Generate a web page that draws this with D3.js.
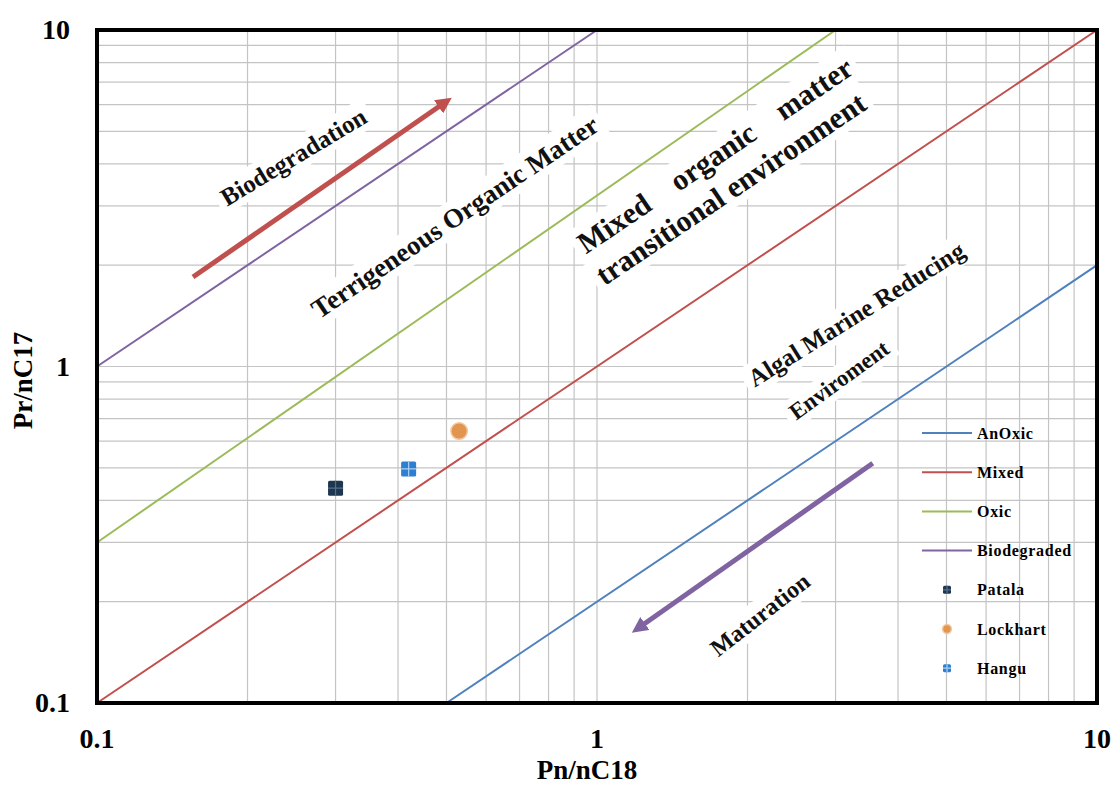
<!DOCTYPE html>
<html>
<head>
<meta charset="utf-8">
<script src="https://cdn.jsdelivr.net/npm/d3@7"></script>
<style>
  body { margin: 0; background: #fff; }
  svg { font-family: "Liberation Serif", "DejaVu Serif", serif; font-weight: bold; }
</style>
</head>
<body>
<svg id="chart" width="1115" height="785"></svg>
<script>
// ---- data ----
const xTicks = [0.1, 1, 10];
const yTicks = [0.1, 1, 10];
const lineNames = ["AnOxic", "Mixed", "Oxic", "Biodegraded"];
const lineColors = ["#4f81bd", "#c0504d", "#9bbb59", "#8064a2"];
const anoxicLine = [[0.5, 0.1], [10, 2]];
const mixedLine = [[0.1, 0.1], [10, 10]];
const oxicLine = [[0.1, 0.3], [3, 10]];
const biodegradedLine = [[0.1, 1], [1, 10]];

const sampleNames = ["Patala", "Lockhart", "Hangu"];
const sampleX = [0.3, 0.53, 0.42];
const sampleY = [0.435, 0.643, 0.496];

// annotations: text, x, y (data units), rotation
const noteText = ["Biodegradation", "Terrigeneous Organic Matter", "Mixed\u00a0\u00a0\u00a0\u00a0organic\u00a0\u00a0\u00a0\u00a0matter",
  "transitional environment", "Algal Marine Reducing", "Enviroment", "Maturation"];
const noteX = [0.247, 0.52, 1.72, 1.85, 3.3, 3.05, 2.12];
const noteY = [4.2, 2.78, 4.25, 3.38, 1.43, 0.91, 0.183];
const noteRot = [-31, -34, -34, -34, -32, -36, -38];
const noteSize = [25, 27, 30, 30, 25, 23, 24];

// arrows: [from, to]
const arrowRed = [[0.1556, 1.845], [0.497, 6.1]];
const arrowPurple = [[3.56, 0.516], [1.21, 0.167]];

// ---- layout ----
const svg = d3.select("#chart");
const margin = {left: 97, top: 30, right: 18, bottom: 82};
const W = 1115 - margin.left - margin.right;
const H = 785 - margin.top - margin.bottom;

const x = d3.scaleLog().domain([0.1, 10]).range([margin.left, margin.left + W]);
const y = d3.scaleLog().domain([0.1, 10]).range([margin.top + H, margin.top]);

// grid (major + minor log lines)
const gridVals = [];
[0.1, 1].forEach(d => { for (let k = 1; k <= 9; k++) gridVals.push(d * k); });
gridVals.push(10);

const grid = svg.append("g").attr("class", "grid");
grid.selectAll("line.v").data(gridVals).enter().append("line")
  .attr("x1", d => x(d)).attr("x2", d => x(d))
  .attr("y1", margin.top).attr("y2", margin.top + H)
  .style("stroke", "#c4c4c4").style("stroke-width", 1.2);
grid.selectAll("line.h").data(gridVals).enter().append("line")
  .attr("y1", d => y(d)).attr("y2", d => y(d))
  .attr("x1", margin.left).attr("x2", margin.left + W)
  .style("stroke", "#c4c4c4").style("stroke-width", 1.2);

// annotation texts with white background (below the lines)
const notes = svg.append("g").attr("class", "notes");
noteText.forEach((t, i) => {
  const g = notes.append("g")
    .attr("transform", `translate(${x(noteX[i])},${y(noteY[i])}) rotate(${noteRot[i]})`);
  const rect = g.append("rect").style("fill", "#fff");
  const txt = g.append("text")
    .attr("text-anchor", "middle")
    .attr("dominant-baseline", "central")
    .style("font-size", noteSize[i] + "px")
    .style("fill", "#111")
    .text(t);
  const bb = txt.node().getBBox();
  rect.attr("x", bb.x - 6).attr("y", bb.y - 2)
    .attr("width", bb.width + 12).attr("height", bb.height + 4);
});

// classification lines
const lineGen = d3.line().x(d => x(d[0])).y(d => y(d[1]));
const lines = [anoxicLine, mixedLine, oxicLine, biodegradedLine];
svg.append("g").selectAll("path").data(lines).enter().append("path")
  .attr("d", lineGen)
  .style("fill", "none")
  .style("stroke", (d, i) => lineColors[i])
  .style("stroke-width", 2);

// arrows
const defs = svg.append("defs");
function arrowHead(id, color) {
  defs.append("marker").attr("id", id)
    .attr("viewBox", "0 0 10 10").attr("refX", 5).attr("refY", 5)
    .attr("markerWidth", 3.2).attr("markerHeight", 3.2)
    .attr("orient", "auto")
    .append("path").attr("d", "M0,0 L10,5 L0,10 z").style("fill", color);
}
arrowHead("headRed", "#c0504d");
arrowHead("headPurple", "#8064a2");
[[arrowRed, "#c0504d", "headRed"], [arrowPurple, "#8064a2", "headPurple"]].forEach(a => {
  svg.append("line")
    .attr("x1", x(a[0][0][0])).attr("y1", y(a[0][0][1]))
    .attr("x2", x(a[0][1][0])).attr("y2", y(a[0][1][1]))
    .style("stroke", a[1]).style("stroke-width", 5)
    .attr("marker-end", `url(#${a[2]})`);
});

// sample markers
function drawMarker(g, name, cx, cy, s) {
  if (name === "Lockhart") {
    g.append("circle").attr("cx", cx).attr("cy", cy).attr("r", s * 0.55)
      .style("fill", "#e1954f").style("stroke", "#f3c79c").style("stroke-width", 1.5);
  } else {
    const col = name === "Patala" ? "#1e3650" : "#2f7fd0";
    g.append("rect").attr("x", cx - s / 2).attr("y", cy - s / 2)
      .attr("width", s).attr("height", s).attr("rx", 1.5)
      .style("fill", col);
    const crossCol = name === "Patala" ? "#55708a" : "#a9d0f5";
    g.append("path")
      .attr("d", `M${cx - s / 2},${cy} H${cx + s / 2} M${cx},${cy - s / 2} V${cy + s / 2}`)
      .style("stroke", crossCol).style("stroke-width", 1.2);
  }
}
const pts = svg.append("g");
sampleNames.forEach((n, i) => drawMarker(pts, n, x(sampleX[i]), y(sampleY[i]), 15));

// frame
svg.append("rect")
  .attr("x", margin.left).attr("y", margin.top)
  .attr("width", W).attr("height", H)
  .style("fill", "none").style("stroke", "#000").style("stroke-width", 4);

// tick labels
svg.append("g").selectAll("text").data(xTicks).enter().append("text")
  .attr("x", d => x(d)).attr("y", margin.top + H + 45)
  .attr("text-anchor", "middle")
  .style("font-size", "28px")
  .text(d => d);
svg.append("g").selectAll("text").data(yTicks).enter().append("text")
  .attr("x", margin.left - 27).attr("y", d => y(d) + 9)
  .attr("text-anchor", "end")
  .style("font-size", "28px")
  .text(d => d);

// axis titles
svg.append("text")
  .attr("x", margin.left + W / 2 - 10).attr("y", 779)
  .attr("text-anchor", "middle")
  .style("font-size", "27px")
  .text("Pn/nC18");
svg.append("text")
  .attr("transform", `translate(32,${margin.top + H / 2 + 14}) rotate(-90)`)
  .attr("text-anchor", "middle")
  .style("font-size", "27px")
  .text("Pr/nC17");

// legend
const legend = svg.append("g").attr("transform", "translate(922,433)");
const legendNames = lineNames.concat(sampleNames);
legendNames.forEach((n, i) => {
  const row = legend.append("g").attr("transform", `translate(0,${i * 39.2})`);
  if (i < lineNames.length) {
    row.append("line").attr("x1", 0).attr("x2", 50).attr("y1", 0).attr("y2", 0)
      .style("stroke", lineColors[i]).style("stroke-width", 2);
  } else {
    drawMarker(row, n, 25, 0, 8);
  }
  row.append("text").attr("x", 55).attr("y", 0)
    .attr("dominant-baseline", "central")
    .style("font-size", "16px").style("letter-spacing", "0.7px")
    .text(n);
});
</script>
</body>
</html>
